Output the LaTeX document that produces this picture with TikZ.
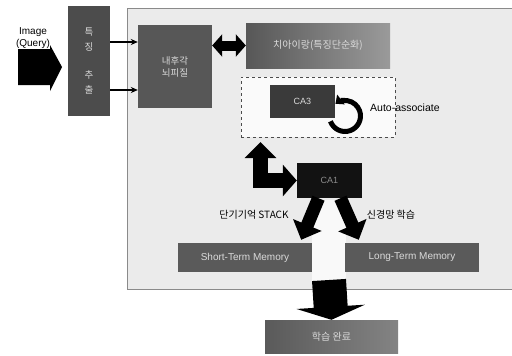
\documentclass[tikz,border=0pt]{standalone}
\usepackage{fontspec}
\setmainfont{Liberation Sans}
\newfontfamily\kr{Noto Sans CJK KR}
\usetikzlibrary{arrows.meta,calc}
\definecolor{panelgray}{HTML}{EBEBEB}
\definecolor{panelline}{HTML}{8A8A8A}
\definecolor{boxA}{HTML}{4C4C4C}
\definecolor{boxB}{HTML}{575757}
\definecolor{boxC}{HTML}{3A3A3A}
\definecolor{boxD}{HTML}{121212}
\definecolor{boxE}{HTML}{5A5A5A}
\definecolor{boxtext}{HTML}{DADADA}
\tikzset{
  darkbox/.style={draw=none, inner sep=0pt, text=boxtext, font=\kr\fontsize{9.5}{12}\selectfont, align=center},
  thinarrow/.style={draw=black, line width=1.6pt, -{Stealth[length=7pt,width=6pt]}},
  fatarrow/.style={draw=black, line width=#1, line join=miter},
  lbl/.style={inner sep=0pt, font=\kr\fontsize{10}{12}\selectfont}
}
\begin{document}
\begin{tikzpicture}[x=1pt,y=-1pt]
\useasboundingbox (0,0) rectangle (512,356);
% main panel
\fill[panelgray] (127,8) rectangle (512,289);
\draw[panelline, line width=1pt] (512,8) -- (127,8) -- (127,289) -- (512,289);
% light band under CA1
\fill[white!70!panelgray] (312,200) rectangle (346,289);

% input
\node[inner sep=0pt, align=center, font=\fontsize{10}{12.5}\selectfont] (img) at (33,38) {Image\\(Query)};
\node[darkbox, fill=boxA, minimum width=42pt, minimum height=110pt, font=\kr\fontsize{9.5}{15}\selectfont] (feat) at (89,61) {특\\징\\[13pt]추\\출};
\fill[black] (18,49) -- (50,49) -- (50,45) -- (62,67) -- (50,91) -- (50,85) -- (18,85) -- cycle;

% entorhinal cortex
\node[darkbox, fill=boxB, minimum width=74pt, minimum height=83pt] (ent) at (175,66.5) {내후각\\뇌피질};
\draw[thinarrow] ([yshift=19pt]feat.east) -- ([yshift=19pt]feat.east -| ent.west);
\draw[thinarrow] ([yshift=-29pt]feat.east) -- ([yshift=-29pt]feat.east -| ent.west);

% dentate gyrus
\node[darkbox, left color=boxB, right color=boxB!60!white, minimum width=144pt, minimum height=45pt, font=\kr\fontsize{10}{12}\selectfont] (dg) at (318,45.5) {치아이랑(특징단순화)};
\draw[fatarrow=10pt, {Triangle[length=10pt,width=22pt]}-{Triangle[length=10pt,width=22pt]}] (ent.east |- dg.west) -- (dg.west);

% CA3 region
\node[draw=black!70, dashed, line width=0.6pt, fill=white!75!panelgray, minimum width=154pt, minimum height=60pt, inner sep=0pt] (ca3box) at (318,107) {};
\node[darkbox, fill=boxC, minimum width=65pt, minimum height=33pt, font=\fontsize{9}{11}\selectfont] (ca3) at (302.5,101.5) {CA3};
\coordinate (loop) at (345,116);
\draw[line width=5pt, -{Triangle[length=7pt,width=12pt]}] ($(loop)+(160:15.5)$) arc[start angle=160, end angle=-128, radius=15.5];
\node[inner sep=0pt, anchor=west, font=\fontsize{10.5}{12}\selectfont] (auto) at (370,108) {Auto-associate};

% CA1
\node[darkbox, fill=boxD, text=black!45, minimum width=65pt, minimum height=35pt, font=\fontsize{9}{11}\selectfont] (ca1) at (329.5,180.5) {CA1};
\coordinate (ltip) at (260.5,142);
\draw[fatarrow=15pt, {Triangle[length=16pt,width=31pt]}-{Triangle[length=14pt,width=31pt]}] (ltip) -- (ltip |- ca1.west) -- (ca1.west);

% memories
\node[darkbox, fill=boxE, minimum width=134pt, minimum height=29pt, font=\fontsize{10}{12}\selectfont] (stm) at (245,257.5) {Short-Term Memory};
\node[darkbox, fill=boxE, minimum width=134pt, minimum height=29pt, font=\fontsize{10}{12}\selectfont] (ltm) at (412,257.5) {Long-Term Memory};
\draw[fatarrow=13pt, -{Triangle[length=16pt,width=30pt]}] ([xshift=-11pt]ca1.south) -- ($(stm.north east)+(-11,-3)$);
\draw[fatarrow=13pt, -{Triangle[length=16pt,width=30pt]}] ([xshift=11pt]ca1.south) -- ($(ltm.north west)+(14,-3)$);
\node[lbl] (stlbl) at (254,215) {단기기억 STACK};
\node[lbl] (ltlbl) at (391,215) {신경망 학습};

% done
\node[darkbox, left color=boxE, right color=boxE!75!white, minimum width=133pt, minimum height=33pt, font=\kr\fontsize{10}{12}\selectfont] (done) at (331.5,336.5) {학습 완료};
\draw[fatarrow=34pt, -{Triangle[length=13pt,width=68pt]}] (329,280) -- (done.north);
\end{tikzpicture}
\end{document}
